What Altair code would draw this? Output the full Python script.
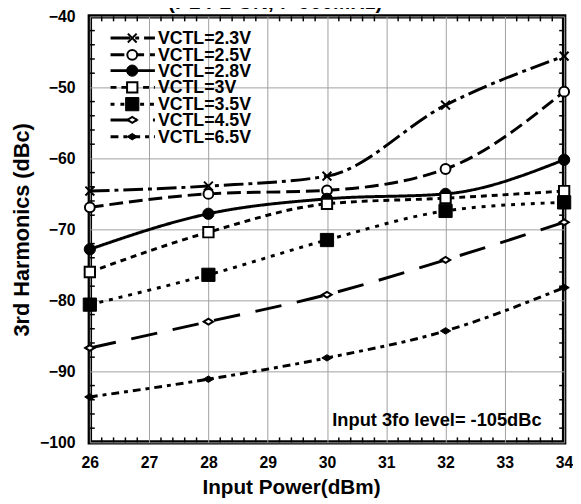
import altair as alt
import pandas as pd
import numpy as np

# ---- data ----
power = [26, 28, 30, 32, 34]
series = ["VCTL=2.3V", "VCTL=2.5V", "VCTL=2.8V", "VCTL=3V", "VCTL=3.5V", "VCTL=4.5V", "VCTL=6.5V"]
h_23 = [-64.6, -63.9, -62.5, -52.5, -45.6]
h_25 = [-66.9, -65.0, -64.5, -61.5, -50.6]
h_28 = [-72.8, -67.8, -65.7, -65.0, -60.2]
h_30 = [-76.0, -70.4, -66.4, -65.6, -64.6]
h_35 = [-80.6, -76.4, -71.5, -67.4, -66.2]
h_45 = [-86.7, -83.0, -79.2, -74.3, -69.0]
h_65 = [-93.6, -91.1, -88.1, -84.3, -78.2]
values = [h_23, h_25, h_28, h_30, h_35, h_45, h_65]

x_ticks = [26, 27, 28, 29, 30, 31, 32, 33, 34]
y_ticks = [-100, -90, -80, -70, -60, -50, -40]
chart_title = "(P1 P2 ON, f=900MHz)"
note = "Input 3fo level= -105dBc"

# ---- styles ----
FONT = "Liberation Sans"
W, H = 481, 432
X_PATH = "M-1,-1L1,1M-1,1L1,-1"
DIAMOND = "M-1,0L0,-0.62L1,0L0,0.62Z"
styles = [
    dict(dash=[20, 5, 4, 5], shape=X_PATH, fill="transparent", size=80, sw=2),
    dict(dash=[14, 6], shape="circle", fill="white", size=100, sw=2),
    dict(dash=[1, 0], shape="circle", fill="black", size=130, sw=1),
    dict(dash=[6, 5], shape="square", fill="white", size=110, sw=2),
    dict(dash=[4, 6], shape="square", fill="black", size=180, sw=1),
    dict(dash=[27, 16], shape=DIAMOND, fill="white", size=90, sw=2),
    dict(dash=[8, 5, 4, 5], shape=DIAMOND, fill="black", size=110, sw=1),
]

xs = alt.Scale(domain=[26, 34], nice=False, zero=False)
ys = alt.Scale(domain=[-100, -40], nice=False, zero=False)

layers = []

# base axis layer
axis_df = pd.DataFrame({"x": [26, 34], "y": [-100, -40]})
base = alt.Chart(axis_df).mark_point(opacity=0).encode(
    x=alt.X("x:Q", scale=xs, title="Input Power(dBm)",
            axis=alt.Axis(values=x_ticks, format="d", grid=True, ticks=False, domain=False,
                          labelFlush=False, labelPadding=12, titlePadding=7, titleX=204,
                          titleFontSize=21)),
    y=alt.Y("y:Q", scale=ys, title="3rd Harmonics (dBc)",
            axis=alt.Axis(values=y_ticks, format="d", grid=True, ticks=False, domain=False,
                          labelFlush=False, labelPadding=15, titlePadding=6,
                          titleFontSize=22)),
)
layers.append(base)

# minor ticks (inside)
xminor = pd.DataFrame({"v": [round(v, 1) for v in np.arange(26.2, 34.0, 0.2) if abs(v - round(v)) > 1e-6]})
yminor = pd.DataFrame({"v": [v for v in range(-98, -40, 2) if v % 10 != 0]})
tick_col = "black"
layers.append(alt.Chart(xminor).mark_rule(color=tick_col, strokeWidth=1.5).encode(
    x=alt.X("v:Q", scale=xs), y=alt.value(H), y2=alt.value(H - 5)))
layers.append(alt.Chart(xminor).mark_rule(color=tick_col, strokeWidth=1.5).encode(
    x=alt.X("v:Q", scale=xs), y=alt.value(0), y2=alt.value(5)))
layers.append(alt.Chart(yminor).mark_rule(color=tick_col, strokeWidth=1.5).encode(
    y=alt.Y("v:Q", scale=ys), x=alt.value(0), x2=alt.value(5)))
layers.append(alt.Chart(yminor).mark_rule(color=tick_col, strokeWidth=1.5).encode(
    y=alt.Y("v:Q", scale=ys), x=alt.value(W), x2=alt.value(W - 5)))

for name, vals, st in zip(series, values, styles):
    df = pd.DataFrame({"p": power, "h": vals, "s": name})
    layers.append(alt.Chart(df).mark_line(color="black", strokeWidth=3, strokeDash=st["dash"],
                                          interpolate="monotone").encode(
        x=alt.X("p:Q", scale=xs), y=alt.Y("h:Q", scale=ys)))
    layers.append(alt.Chart(df).mark_point(shape=st["shape"], filled=False, fill=st["fill"],
                                           stroke="black", strokeWidth=st["sw"], size=st["size"],
                                           opacity=1, fillOpacity=1).encode(
        x=alt.X("p:Q", scale=xs), y=alt.Y("h:Q", scale=ys)))

# manual legend
leg_y = [22, 39, 55, 72, 89, 105, 122]
for i, (name, st) in enumerate(zip(series, styles)):
    ldf = pd.DataFrame({"label": [name]})
    layers.append(alt.Chart(ldf).mark_rule(color="black", strokeWidth=3, strokeDash=st["dash"]).encode(
        x=alt.value(21), x2=alt.value(66), y=alt.value(leg_y[i])))
    layers.append(alt.Chart(ldf).mark_point(shape=st["shape"], filled=False, fill=st["fill"],
                                            stroke="black", strokeWidth=st["sw"], size=st["size"],
                                            opacity=1, fillOpacity=1).encode(
        x=alt.value(43), y=alt.value(leg_y[i])))
    layers.append(alt.Chart(ldf).mark_text(align="left", baseline="middle", font=FONT,
                                           fontWeight="bold", fontSize=18, color="black").encode(
        x=alt.value(69), y=alt.value(leg_y[i] + 1), text="label:N"))

# annotation
layers.append(alt.Chart(pd.DataFrame({"t": [note]})).mark_text(
    align="center", baseline="middle", font=FONT, fontWeight="bold", fontSize=18.5, color="black").encode(
    x=alt.value(352), y=alt.value(409), text="t:N"))

# clipped title at the very top
layers.append(alt.Chart(pd.DataFrame({"t": [chart_title]})).mark_text(
    align="center", baseline="bottom", font=FONT, fontWeight="bold", fontSize=21, color="black").encode(
    x=alt.value(188), y=alt.value(-3), text="t:N"))

chart = alt.layer(*layers).properties(
    width=W, height=H,
    autosize=alt.AutoSizeParams(type="none"),
    padding={"left": 83, "top": 5, "right": 9, "bottom": 59},
).configure_view(
    stroke="black", strokeWidth=4.5
).configure_axis(
    labelFont=FONT, labelFontWeight="bold", labelFontSize=16, labelColor="black",
    titleFont=FONT, titleFontWeight="bold", titleFontSize=22, titleColor="black",
    gridColor="#a0a0a0", gridWidth=1, gridOpacity=1,
)

chart.save("out.html", embed_options={"renderer": "svg", "actions": False})
